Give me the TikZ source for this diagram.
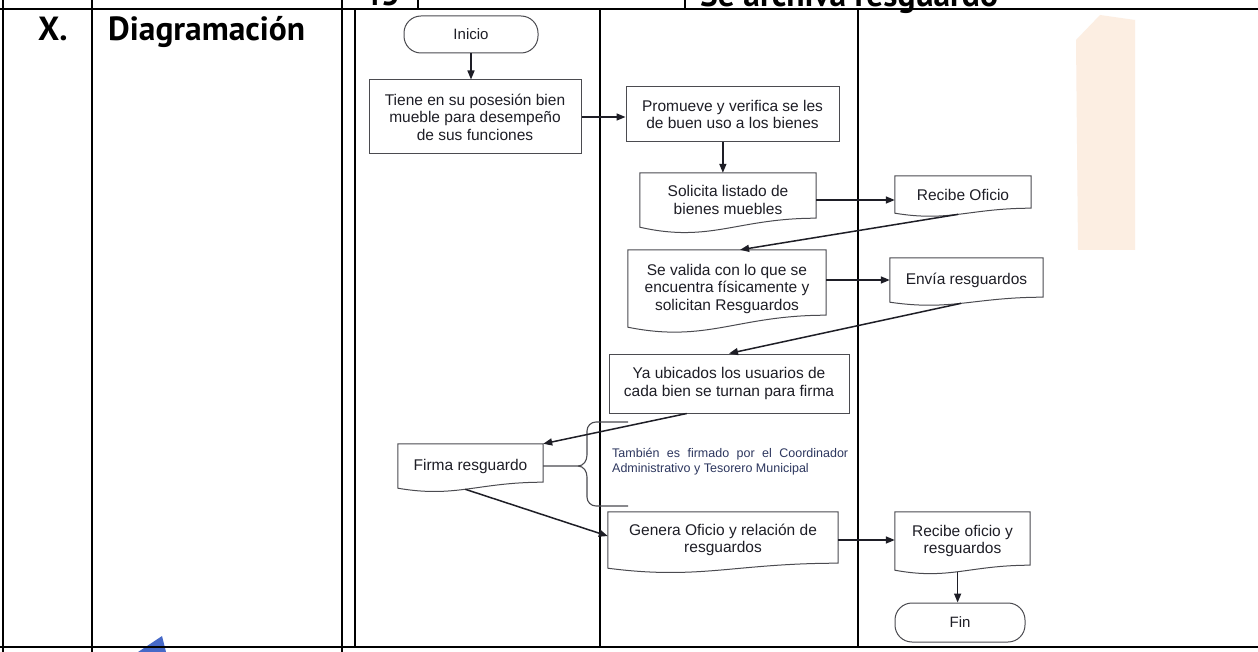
\documentclass[tikz,border=0pt]{standalone}
\usepackage{fontspec}
\setmainfont{Liberation Sans}
\newfontfamily\headfont{PT Sans}
\usetikzlibrary{arrows.meta,calc}
\definecolor{ink}{RGB}{30,30,38}
\definecolor{boxc}{RGB}{75,75,80}
\definecolor{notec}{RGB}{45,55,95}
\definecolor{peach}{RGB}{252,238,226}
\definecolor{wblue}{RGB}{70,105,200}
\tikzset{
  tbl/.style={line width=1.8pt, draw=black},
  boxline/.style={draw=boxc, line width=1pt},
  procbox/.style={boxline, rectangle, align=center, inner sep=0pt, text=ink, font=\fontsize{15.5}{17.5}\selectfont},
  docbox/.style={rectangle, draw=none, align=center, inner sep=0pt, text=ink, font=\fontsize{15.5}{17.5}\selectfont},
  termbox/.style={boxline, rectangle, rounded corners=17pt, align=center, inner sep=0pt, text=ink, font=\fontsize{15}{17}\selectfont},
  conn/.style={line width=1.5pt, draw=ink, -{Triangle[length=9pt,width=7pt]}},
  bracec/.style={line width=1.1pt, draw=boxc},
  headtxt/.style={font=\headfont\bfseries\fontsize{33.5}{34}\selectfont, text=black, inner sep=0pt},
  notetxt/.style={font=\fontsize{12.5}{15}\selectfont, text=notec, align=left, inner sep=0pt},
}
\newcommand\docoutline[3]{%
  \draw[boxline] (#1.south west) -- (#1.north west) -- (#1.north east) -- ($(#1.south east)+(0,-#2)$)
    .. controls ($(#1.south west)!0.55!(#1.south east)+(0,-#2)$) and ($(#1.south west)!0.4!(#1.south east)+(0,#3)$) .. (#1.south west) coordinate[pos=0.52] (#1b) -- cycle;}
\begin{document}
\begin{tikzpicture}[x=1pt,y=-1pt]
\useasboundingbox (0,0) rectangle (1258,652);
\clip (0,0) rectangle (1258,652);
\fill[white] (0,0) rectangle (1258,652);
% faint background marks
\fill[peach] (1078,250) -- (1076,40) -- (1100,15) -- (1135,20) -- (1135,250) -- cycle;
\fill[wblue] (138,652) -- (162,636) -- (166,652) -- cycle;
% top row text (cut)
\node[headtxt, anchor=base west] (n45) at (362,6) {45};
\node[headtxt, anchor=base west] (arch) at (700,7) {Se archiva resguardo};
% table lines
\draw[tbl] (0,9) -- (1258,9);
\draw[tbl] (0,647) -- (1258,647);
\foreach \xx in {3,92,342} {\draw[tbl] (\xx,0) -- (\xx,652);}
\draw[tbl] (418,0) -- (418,9);
\draw[tbl] (685,0) -- (685,9);
\foreach \xx in {355,600,858} {\draw[tbl] (\xx,9) -- (\xx,647);}
% header
\node[headtxt, anchor=base west] (hx) at (38,41) {X.};
\node[headtxt, anchor=base west] (hd) at (108,41) {Diagramación};
% nodes
\node[termbox, minimum width=134pt, minimum height=37pt] (ini) at (471,34.5) {Inicio};
\node[procbox, minimum width=212pt, minimum height=74pt] (tie) at (475,117) {Tiene en su posesión bien\\mueble para desempeño\\de sus funciones};
\node[procbox, minimum width=213pt, minimum height=55pt] (pro) at (732.5,114.5) {Promueve y verifica se les\\de buen uso a los bienes};
\node[docbox, minimum width=176pt, minimum height=54pt] (sol) at (728,200) {Solicita listado de\\bienes muebles};
\docoutline{sol}{9}{16}
\node[docbox, minimum width=136pt, minimum height=37pt] (rof) at (963,194.5) {Recibe Oficio};
\docoutline{rof}{5}{9}
\node[docbox, minimum width=198pt, minimum height=77pt] (val) at (727,288.5) {Se valida con lo que se\\encuentra físicamente y\\solicitan Resguardos};
\docoutline{val}{12}{16}
\node[docbox, minimum width=153pt, minimum height=44pt] (env) at (966.5,280) {Envía resguardos};
\docoutline{env}{5}{9}
\node[procbox, minimum width=240pt, minimum height=59pt] (ya) at (729,383.5) {Ya ubicados los usuarios de\\cada bien se turnan para firma};
\node[docbox, minimum width=145pt, minimum height=44pt] (fir) at (470.5,466) {Firma resguardo};
\docoutline{fir}{6}{10}
\node[docbox, minimum width=230pt, minimum height=56pt] (gen) at (723,540) {Genera Oficio y relación de\\resguardos};
\docoutline{gen}{5}{12}
\node[docbox, minimum width=135pt, minimum height=58pt] (rog) at (962.5,541) {Recibe oficio y\\resguardos};
\docoutline{rog}{5}{10}
\node[termbox, minimum width=130pt, minimum height=39pt] (fin) at (960,622.5) {Fin};
% annotation
\node[notetxt, anchor=west] (note) at (612,462) {\makebox[236pt][s]{También es firmado por el Coordinador}\\Administrativo y Tesorero Municipal};
\draw[bracec] (628,422) -- (596,422) to[out=180,in=90] (587,431) -- (587,455) to[out=-90,in=0] (578,466) -- (fir.east);
\draw[bracec] (578,466) to[out=0,in=90] (587,477) -- (587,497) to[out=-90,in=180] (596,506) -- (628,506);
% connectors
\draw[conn] (ini.south) -- (ini.south |- tie.north);
\draw[conn] (tie.east) -- (tie.east -| pro.west);
\coordinate (pb) at ($(pro.south west)!0.455!(pro.south east)$);
\draw[conn] (pb) -- (pb |- sol.north);
\draw[conn] (sol.east) -- (sol.east -| rof.west);
\draw[conn] (rofb) -- ($(val.north west)!0.566!(val.north east)$);
\draw[conn] (env.west -| val.east) -- (env.west);
\draw[conn] (envb) -- (ya.north);
\draw[conn] ($(ya.south west)!0.325!(ya.south east)$) -- (fir.north east);
\draw[conn] (firb) -- ($(gen.north west)!0.43!(gen.south west)$);
\draw[conn] (gen.east) -- (gen.east -| rog.west);
\draw[conn] (rogb) -- (rogb |- fin.north);
\end{tikzpicture}
\end{document}
